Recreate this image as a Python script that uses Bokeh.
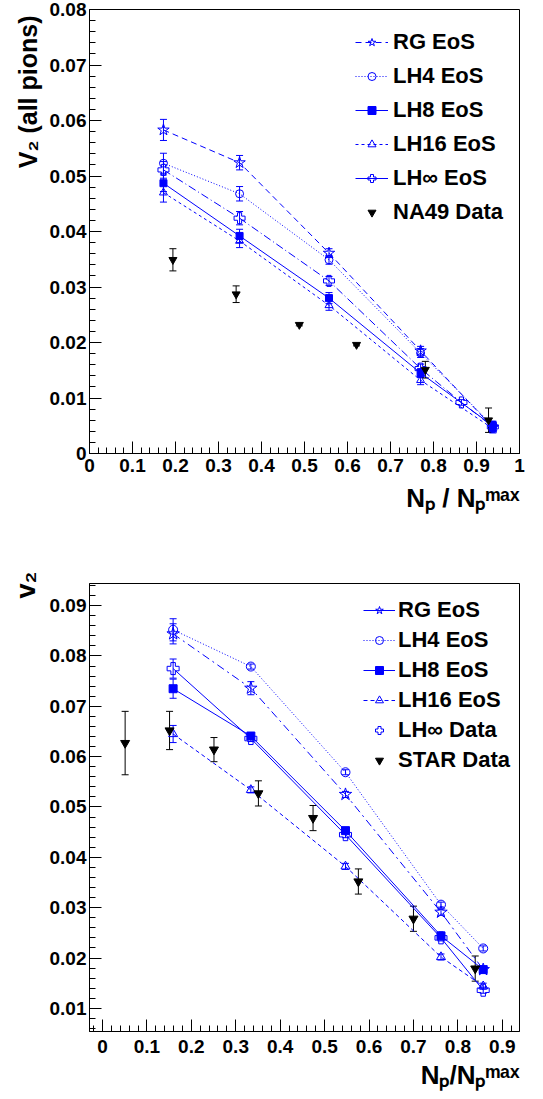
from bokeh.plotting import figure
from bokeh.layouts import column
from bokeh.models import (ColumnDataSource, Whisker, TeeHead, Legend, LegendItem, Title,
                          SingleIntervalTicker, CustomJSTickFormatter, Range1d)
from bokeh.embed import file_html
from bokeh.resources import INLINE

# ---------------- data: upper panel (NA49, all pions) ----------------
top_x = [0.172, 0.349, 0.557, 0.770, 0.938]
top_rg = [0.0583, 0.0524, 0.0361, 0.0185, 0.0047]
top_rg_err = [0.0019, 0.0013, 0.0008, 0.0008, 0.0008]
top_lh4 = [0.0523, 0.0468, 0.0349, 0.0181, 0.0050]
top_lh4_err = [0.0018, 0.0013, 0.0008, 0.0008, 0.0008]
top_lh8 = [0.0487, 0.0392, 0.0280, 0.0145, 0.0050]
top_lh8_err = [0.0015, 0.0012, 0.0010, 0.0008, 0.0008]
top_lh16 = [0.0470, 0.0383, 0.0267, 0.0132, 0.0045]
top_lh16_err = [0.0017, 0.0012, 0.0009, 0.0008, 0.0008]
top_inf_x = [0.172, 0.349, 0.557, 0.770, 0.865, 0.938]
top_inf = [0.0511, 0.0424, 0.0311, 0.0153, 0.0092, 0.0048]
top_inf_err = [0.0015, 0.0012, 0.0008, 0.0008, 0.0005, 0.0008]
na49_x = [0.194, 0.341, 0.488, 0.621, 0.781, 0.928]
na49_y = [0.0349, 0.0287, 0.0232, 0.0196, 0.0151, 0.0060]
na49_err = [0.0020, 0.0015, 0.0002, 0.0002, 0.0015, 0.0022]

# ---------------- data: lower panel (STAR) ----------------
bot_x = [0.159, 0.334, 0.547, 0.762, 0.857]
bot_rg = [0.0844, 0.0736, 0.0525, 0.0291, 0.0177]
bot_rg_err = [0.0020, 0.0013, 0.0006, 0.0006, 0.0006]
bot_lh4 = [0.0852, 0.0779, 0.0569, 0.0306, 0.0219]
bot_lh4_err = [0.0022, 0.0005, 0.0005, 0.0005, 0.0005]
bot_lh8 = [0.0735, 0.0641, 0.0453, 0.0244, 0.0177]
bot_lh8_err = [0.0019, 0.0006, 0.0006, 0.0006, 0.0006]
bot_lh16 = [0.0645, 0.0534, 0.0382, 0.0202, 0.0144]
bot_lh16_err = [0.0017, 0.0006, 0.0006, 0.0006, 0.0006]
bot_inf = [0.0775, 0.0636, 0.0445, 0.0240, 0.0136]
bot_inf_err = [0.0019, 0.0006, 0.0006, 0.0006, 0.0006]
star_x = [0.051, 0.151, 0.251, 0.351, 0.474, 0.576, 0.700, 0.839]
star_y = [0.0627, 0.0652, 0.0614, 0.0527, 0.0478, 0.0352, 0.0278, 0.0179]
star_err = [0.0063, 0.0038, 0.0024, 0.0025, 0.0025, 0.0025, 0.0025, 0.0025]

FONT = "Liberation Sans"
BLUE = "#0000ff"

TOP_X = (0.0, 1.0)
TOP_Y = (0.0, 0.08)
BOT_X = (-0.0292, 0.9387)
BOT_Y = (0.0054, 0.0944)


def style(p, xint, yint, xstand):
    p.xgrid.visible = False
    p.ygrid.visible = False
    p.outline_line_color = "black"
    p.outline_line_width = 1
    p.xaxis.ticker = SingleIntervalTicker(interval=xint, num_minor_ticks=5)
    p.yaxis.ticker = SingleIntervalTicker(interval=yint, num_minor_ticks=5)
    for ax in (p.xaxis[0], p.yaxis[0]):
        ax.major_tick_in = 12
        ax.major_tick_out = 0
        ax.minor_tick_in = 6
        ax.minor_tick_out = 0
        ax.axis_line_color = "black"
        ax.major_tick_line_color = "black"
        ax.minor_tick_line_color = "black"
        ax.major_label_text_font = FONT
        ax.major_label_text_font_style = "bold"
        ax.major_label_text_font_size = "19px"
        ax.major_label_text_color = "black"
        ax.formatter = CustomJSTickFormatter(code="return parseFloat(tick.toFixed(4)).toString();")
    p.yaxis.major_label_standoff = 3
    p.xaxis.major_label_standoff = xstand


def add_title(p, text, side, size, standoff, offset=0):
    p.add_layout(Title(text=text, align="right", text_font=FONT, text_font_style="bold",
                       text_font_size=f"{size}px", text_color="black",
                       standoff=standoff, offset=offset), side)


def series(p, xs, ys, errs, marker, size, dash, fill, legend_dash=None, with_line=True):
    src = ColumnDataSource(dict(x=xs, y=ys, lo=[a - b for a, b in zip(ys, errs)],
                                hi=[a + b for a, b in zip(ys, errs)]))
    if with_line:
        p.line("x", "y", source=src, line_color=BLUE, line_width=1, line_dash=dash)
    p.add_layout(Whisker(base="x", lower="lo", upper="hi", source=src, line_color=BLUE,
                         line_width=1,
                         upper_head=TeeHead(size=7, line_color=BLUE, line_width=1),
                         lower_head=TeeHead(size=7, line_color=BLUE, line_width=1)))
    sc = p.scatter("x", "y", source=src, marker=marker, size=size, line_color=BLUE,
                   line_width=1, fill_color=fill)
    rends = []
    if legend_dash is not None:
        # single-point line: draws nothing on the plot, only supplies the legend line style
        rends.append(p.line(x=xs[:1], y=ys[:1], line_color=BLUE, line_width=1,
                            line_dash=legend_dash))
    rends.append(sc)
    return rends


def data_series(p, xs, ys, errs, size):
    src = ColumnDataSource(dict(x=xs, y=ys, lo=[a - b for a, b in zip(ys, errs)],
                                hi=[a + b for a, b in zip(ys, errs)]))
    p.add_layout(Whisker(base="x", lower="lo", upper="hi", source=src, line_color="black",
                         line_width=1,
                         upper_head=TeeHead(size=7, line_color="black", line_width=1),
                         lower_head=TeeHead(size=7, line_color="black", line_width=1)))
    return p.scatter("x", "y", source=src, marker="inverted_triangle", size=size,
                     line_color="black", fill_color="black")


def make_legend(items, loc, spacing, gw, lh, standoff):
    return Legend(items=items, location=loc, padding=0, margin=0, spacing=spacing,
                  glyph_width=gw, glyph_height=20, label_height=lh, label_standoff=standoff,
                  border_line_color=None, background_fill_alpha=0,
                  label_text_font=FONT, label_text_font_style="bold",
                  label_text_font_size="22px", label_text_color="black")


# ======================= upper panel =======================
p1 = figure(width=543, height=540, x_range=Range1d(*TOP_X), y_range=Range1d(*TOP_Y),
            output_backend="svg", toolbar_location=None,
            min_border_left=89, min_border_right=24, min_border_top=9, min_border_bottom=87,
            background_fill_color="white", border_fill_color="white")
style(p1, 0.1, 0.01, 5)

r_rg = series(p1, top_x, top_rg, top_rg_err, "star", 12, "6 4", None, legend_dash="6 4")
r_lh4 = series(p1, top_x, top_lh4, top_lh4_err, "circle", 8, "1 2", None, legend_dash="1 2")
r_lh8 = series(p1, top_x, top_lh8, top_lh8_err, "square", 7, "solid", BLUE, legend_dash="solid")
r_lh16 = series(p1, top_x, top_lh16, top_lh16_err, "triangle", 8, "3 3", None, legend_dash="3 3")
r_inf = series(p1, top_inf_x, top_inf, top_inf_err, "plus", 11, "8 3 1 3", None, legend_dash="solid")
r_na49 = data_series(p1, na49_x, na49_y, na49_err, 8)

p1.add_layout(make_legend([
    LegendItem(label="RG EoS", renderers=r_rg),
    LegendItem(label="LH4 EoS", renderers=r_lh4),
    LegendItem(label="LH8 EoS", renderers=r_lh8),
    LegendItem(label="LH16 EoS", renderers=r_lh16),
    LegendItem(label="LH\u221e EoS", renderers=r_inf),
    LegendItem(label="NA49 Data", renderers=[r_na49]),
], (266, 226), 4, 33, 30, 5))

add_title(p1, "V\u2082 (all pions)", "left", 25, 9, offset=6)
add_title(p1, "N\u209a / N\u209a\u1d50\u1d43\u02e3", "below", 26, 12)

# ======================= lower panel =======================
p2 = figure(width=543, height=558, x_range=Range1d(*BOT_X), y_range=Range1d(*BOT_Y),
            output_backend="svg", toolbar_location=None,
            min_border_left=89, min_border_right=23, min_border_top=43, min_border_bottom=67,
            background_fill_color="white", border_fill_color="white")
style(p2, 0.1, 0.01, 8)

s_rg = series(p2, bot_x, bot_rg, bot_rg_err, "star", 13, "8 4 2 4", None, legend_dash="solid")
s_lh4 = series(p2, bot_x, bot_lh4, bot_lh4_err, "circle", 9, "1 2", None, legend_dash="1 2")
s_lh8 = series(p2, bot_x, bot_lh8, bot_lh8_err, "square", 8, "solid", BLUE, legend_dash="solid")
s_lh16 = series(p2, bot_x, bot_lh16, bot_lh16_err, "triangle", 9, "4 3", None, legend_dash="4 3")
s_inf = series(p2, bot_x, bot_inf, bot_inf_err, "plus", 12, "solid", None, legend_dash=None)
s_star = data_series(p2, star_x, star_y, star_err, 9)

p2.add_layout(make_legend([
    LegendItem(label="RG EoS", renderers=s_rg),
    LegendItem(label="LH4 EoS", renderers=s_lh4),
    LegendItem(label="LH8 EoS", renderers=s_lh8),
    LegendItem(label="LH16 EoS", renderers=s_lh16),
    LegendItem(label="LH\u221e Data", renderers=s_inf),
    LegendItem(label="STAR Data", renderers=[s_star]),
], (274, 258), 3, 32, 27, 3))

add_title(p2, "v\u2082", "left", 27, 12, offset=-12)
add_title(p2, "N\u209a/N\u209a\u1d50\u1d43\u02e3", "below", 26, 5)

layout = column(p1, p2, spacing=0)
open("out.html", "w").write(file_html(layout, INLINE))
